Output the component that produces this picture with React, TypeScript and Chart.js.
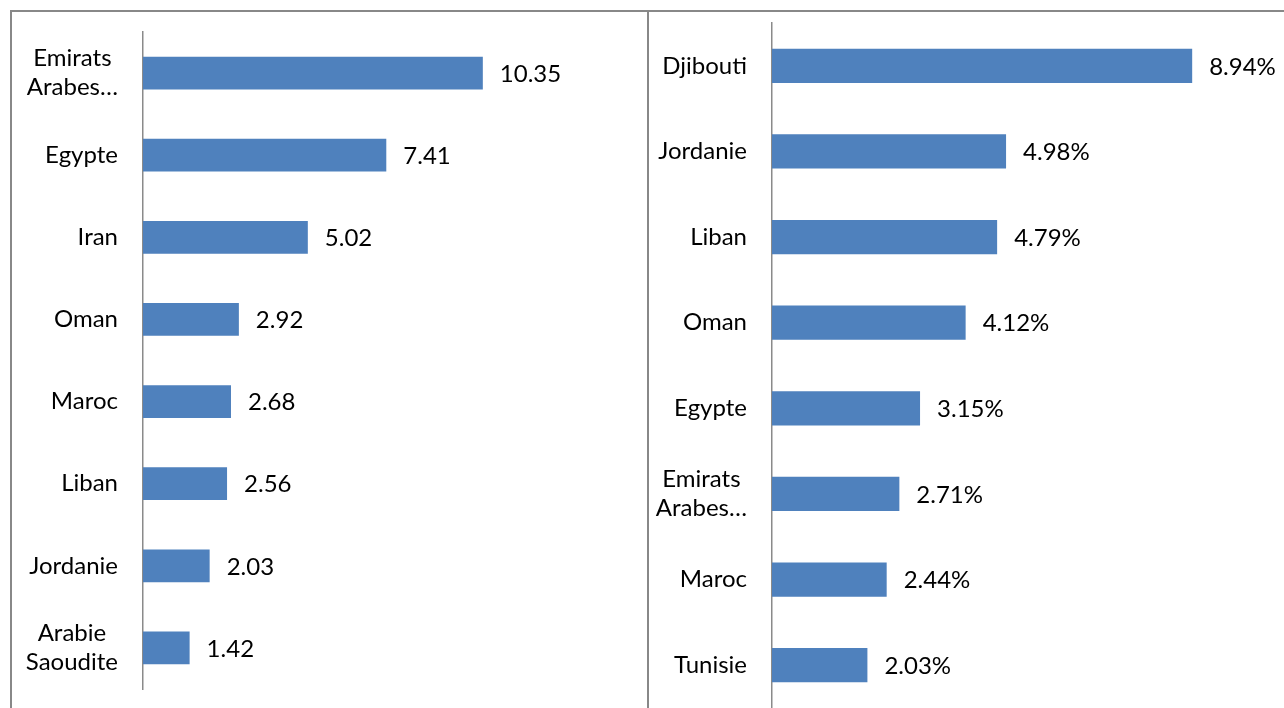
import React, { useEffect, useRef } from 'react';
import { Chart, registerables } from 'chart.js';

Chart.register(...registerables);

// ---- Data ----
const leftCategories: (string | string[])[] = [
  ['Emirats', 'Arabes…'],
  'Egypte',
  'Iran',
  'Oman',
  'Maroc',
  'Liban',
  'Jordanie',
  ['Arabie', 'Saoudite'],
];
const leftValues: number[] = [10.35, 7.41, 5.02, 2.92, 2.68, 2.56, 2.03, 1.42];

const rightCategories: (string | string[])[] = [
  'Djibouti',
  'Jordanie',
  'Liban',
  'Oman',
  'Egypte',
  ['Emirats', 'Arabes…'],
  'Maroc',
  'Tunisie',
];
const rightValues: number[] = [8.94, 4.98, 4.79, 4.12, 3.15, 2.71, 2.44, 2.03];

const FONT_FAMILY = 'Lato, "Open Sans", sans-serif';
const FONT_SIZE = 24;
const LINE_HEIGHT = 29;
const BAR_COLOR = '#4F81BD';
const AXIS_COLOR = '#8a8a8a';
const BORDER_COLOR = '#888888';

type PanelProps = {
  categories: (string | string[])[];
  values: number[];
  suffix: string;
  max: number;
  padding: { left: number; right: number; top: number; bottom: number };
  width: number;
  height: number;
};

const labelPlugin = (suffix: string) => ({
  id: 'customLabels',
  afterDatasetsDraw(chart: any) {
    const ctx: CanvasRenderingContext2D = chart.ctx;
    const yScale = chart.scales.y;
    const area = chart.chartArea;
    const labels = chart.data.labels as (string | string[])[];
    const values = chart.data.datasets[0].data as number[];
    ctx.save();
    ctx.font = `${FONT_SIZE}px ${FONT_FAMILY}`;
    ctx.fillStyle = '#000000';
    ctx.textBaseline = 'middle';
    // category labels
    labels.forEach((lab, i) => {
      const lines = Array.isArray(lab) ? lab : [lab];
      const y = yScale.getPixelForValue(i);
      const blockW = Math.max(...lines.map((l) => ctx.measureText(l).width));
      const cx = area.left - 25 - blockW / 2;
      ctx.textAlign = 'center';
      lines.forEach((l, j) => {
        const ly = y + (j - (lines.length - 1) / 2) * LINE_HEIGHT;
        ctx.fillText(l, cx, ly);
      });
    });
    // value labels
    const meta = chart.getDatasetMeta(0);
    ctx.textAlign = 'left';
    meta.data.forEach((bar: any, i: number) => {
      ctx.fillText(values[i].toFixed(2) + suffix, bar.x + 17, bar.y + 1);
    });
    ctx.restore();
  },
});

function Panel({ categories, values, suffix, max, padding, width, height }: PanelProps) {
  const ref = useRef<HTMLCanvasElement | null>(null);
  useEffect(() => {
    if (!ref.current) return;
    const chart = new Chart(ref.current, {
      type: 'bar',
      data: {
        labels: categories as any,
        datasets: [
          {
            data: values,
            backgroundColor: BAR_COLOR,
            borderWidth: 0,
            categoryPercentage: 1,
            barPercentage: 0.4,
          },
        ],
      },
      options: {
        indexAxis: 'y',
        responsive: false,
        animation: false,
        devicePixelRatio: 1,
        layout: { padding },
        plugins: {
          legend: { display: false },
          tooltip: { enabled: false },
          title: { display: false },
        },
        scales: {
          x: { display: false, min: 0, max },
          y: {
            grid: { display: false, drawTicks: false },
            ticks: { display: false, padding: 0 },
            border: { display: true, color: AXIS_COLOR, width: 1.5 },
          },
        },
      },
      plugins: [labelPlugin(suffix)],
    });
    return () => chart.destroy();
  }, [categories, values, suffix, max, padding]);
  return <canvas ref={ref} width={width} height={height} style={{ display: 'block' }} />;
}

const leftPadding = { left: 131, right: 110, top: 20, bottom: 19 };
const rightPadding = { left: 123, right: 42, top: 11, bottom: 0 };

export default function App() {
  return (
    <div
      style={{
        position: 'absolute',
        left: 0,
        top: 0,
        width: 1284,
        height: 708,
        overflow: 'hidden',
        background: '#ffffff',
      }}
    >
      <div
        style={{
          position: 'absolute',
          left: 10,
          top: 10,
          width: 637,
          height: 698,
          boxSizing: 'border-box',
          borderLeft: `2px solid ${BORDER_COLOR}`,
          borderTop: `2px solid ${BORDER_COLOR}`,
        }}
      >
        <Panel
          categories={leftCategories}
          values={leftValues}
          suffix=""
          max={12}
          padding={leftPadding}
          width={635}
          height={696}
        />
      </div>
      <div
        style={{
          position: 'absolute',
          left: 647,
          top: 10,
          width: 637,
          height: 698,
          boxSizing: 'border-box',
          borderLeft: `2px solid ${BORDER_COLOR}`,
          borderTop: `2px solid ${BORDER_COLOR}`,
        }}
      >
        <Panel
          categories={rightCategories}
          values={rightValues}
          suffix="%"
          max={10}
          padding={rightPadding}
          width={635}
          height={696}
        />
      </div>
    </div>
  );
}
